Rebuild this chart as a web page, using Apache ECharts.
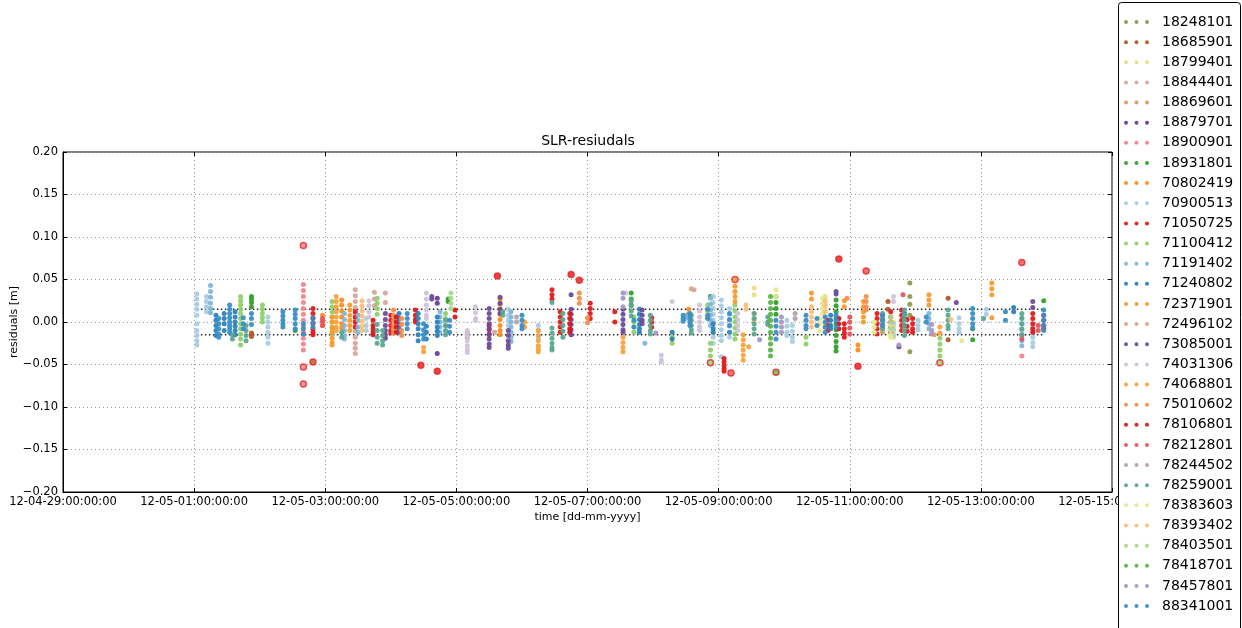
<!DOCTYPE html>
<html>
<head>
<meta charset="utf-8">
<script src="https://cdn.jsdelivr.net/npm/echarts@6/dist/echarts.min.js"></script>
<style>
  html, body { margin: 0; padding: 0; background: #fff; }
  #chart { width: 1242px; height: 628px; }
</style>
</head>
<body>
<div id="chart"></div>
<script>
// time axis is in hours since 2012-05-01 00:00 UTC
const epoch = Date.UTC(2012, 4, 1);
const xTicksHours = [-48, 0, 48, 96, 144, 192, 240, 288, 336];
const yTicks = [-0.20, -0.15, -0.10, -0.05, 0.00, 0.05, 0.10, 0.15, 0.20];
const rmsBand = 0.015;

// passes per station: [hour, [residuals in m]]
const st18248101 = [[262, [0.046, 0.030, 0.021, 0.008, -0.035]]];
const st18685901 = [[21, [-0.013, -0.017]], [254, [0.024, 0.015]], [276, [0.028, -0.021]]];
const st18799401 = [[205, [0.040, 0.032]], [231, [0.030, 0.022, 0.014, 0.006, -0.002, -0.008]],
  [256, [0.000, -0.006, -0.012, -0.018]]];
const st18844401 = [[59, [0.038, 0.031, 0.024, 0.017, 0.010, 0.003, -0.004, -0.011, -0.018, -0.025, -0.031, -0.037]],
  [66, [0.035, 0.027, 0.019]], [70, [0.034, 0.023]], [110, [-0.012]], [183, [0.038]]];
const st18869601 = [[252, [0.008, 0.002, -0.006, -0.012]]];
const st18879701 = [[89, [0.028, 0.022, -0.037]], [258, [-0.029]]];
const st18900901 = [[40, [0.044, 0.037, 0.030, 0.023, 0.016, 0.009, 0.002, -0.005, -0.012, -0.019, -0.026, -0.033]], [303, [-0.040]]];
const st18931801 = [[21, [0.030, 0.027, 0.023, 0.018]], [37, [-0.010]], [93, [0.027, 0.024]], [160, [0.034, 0.027, 0.020]],
  [189, [0.030]], [213, [0.030, 0.023, 0.016, 0.009]],
  [235, [0.026, 0.019, 0.012, 0.005, -0.002, -0.009, -0.016, -0.023, -0.029, -0.034]], [285, [-0.021, -0.008]], [311, [0.025]]];
const st70802419 = [[47, [0.008, 0.002, -0.004]], [54, [0.026, 0.020, 0.013, 0.006, -0.002, -0.007]],
  [112, [0.027, 0.021, 0.015, 0.009, 0.003, -0.004, -0.010, -0.015]], [181, [0.015, 0.009]], [243, [-0.027, -0.033]]];
const st70900513 = [[1, [0.033, 0.027, 0.021, 0.015, 0.008, -0.002, -0.010, -0.016, -0.022, -0.027]],
  [4.5, [0.030, 0.024, 0.018, 0.012]], [27, [0.006, 0.000, -0.006, -0.012, -0.018, -0.025]],
  [63, [0.004, -0.004, -0.010]],
  [115, [0.015, 0.008, 0.002, -0.004]], [126, [-0.004, -0.010, -0.016, -0.019]],
  [190, [0.030, 0.023, 0.016, 0.009, 0.002, -0.005, -0.012, -0.018, -0.025]],
  [193, [0.026, 0.019, 0.012, 0.005, -0.002, -0.009, -0.016, -0.022, -0.041]],
  [196, [0.016, 0.009, 0.002, -0.005, -0.012, -0.018]], [217, [0.002, -0.005, -0.012, -0.016]],
  [219, [-0.004, -0.011, -0.018, -0.023]], [256, [-0.002, -0.009, -0.016]], [265, [0.002, -0.004, -0.009]],
  [280, [0.005, -0.002, -0.008, -0.012]], [290, [0.015, 0.009]], [307, [-0.006, -0.012, -0.018, -0.024, -0.029]]];
const st71050725 = [[43.5, [0.016, 0.010, 0.004, -0.002, -0.008, -0.012, -0.015]], [59, [0.012, 0.006, 0.000, -0.006]],
  [72, [0.008, 0.002, -0.004, -0.010, -0.013]], [81, [0.014, 0.008, 0.003, 0.000]], [108, [-0.004, -0.009, -0.015]],
  [131, [0.038, 0.032, 0.027]], [134, [0.012, 0.006, 0.000, -0.006, -0.012]], [145, [0.022, 0.016, 0.010, 0.004]],
  [154, [0.012, 0.000]], [167.5, [0.005, 0.000, -0.006]], [194, [-0.043, -0.047, -0.051, -0.055, -0.058]],
  [232, [0.002, -0.004, -0.010]], [238, [-0.002, -0.008, -0.013, -0.018]], [250, [0.010, 0.004, -0.002, -0.008, -0.014]],
  [255, [0.012, 0.006, 0.000, -0.006, -0.012]],
  [259, [0.014, 0.008, 0.002, -0.004, -0.010]], [263, [0.004, -0.002, -0.008, -0.012]],
  [307, [0.010, 0.004, -0.002, -0.008, -0.012]], [311, [0.008, 0.002, -0.004, -0.008]]];
const st71100412 = [[17, [0.030, 0.025, 0.020, 0.015, 0.010, 0.004, -0.002, -0.008, -0.014, -0.020, -0.027]],
  [25, [0.020, 0.015, 0.010, 0.005, 0.000]], [50.5, [0.024, 0.018, 0.012, 0.006, 0.000, -0.006, -0.011, -0.015]],
  [67, [0.028, 0.022, 0.016, 0.009]], [92, [0.010, 0.004, -0.004]], [161, [0.006, 0.000, -0.006, -0.012]],
  [175, [-0.018, -0.025]], [188, [0.020, 0.013, 0.006]], [189, [-0.025, -0.033, -0.040]],
  [198, [0.020, 0.013, 0.006, 0.000, -0.007, -0.014, -0.020]], [224, [-0.018, -0.026]], [273, [-0.019, -0.026, -0.033, -0.040]]];
const st71191402 = [[6, [0.043, 0.036, 0.029, 0.022, 0.016, 0.011]], [55, [0.010, 0.003, -0.004, -0.010, -0.016, -0.020]],
  [60, [0.008, 0.002, -0.006, -0.012]], [90, [0.012, 0.006, 0.000, -0.006, -0.012]],
  [116, [0.012, 0.006, 0.000, -0.006, -0.012, -0.018, -0.023]], [165, [-0.025]], [180, [0.008, 0.004]],
  [189, [0.028, 0.021, 0.014, 0.008, 0.002, -0.004]], [269, [0.010, 0.004, -0.002, -0.008]],
  [303, [0.005, -0.002, -0.009, -0.016, -0.022, -0.028]]];
const st71240802 = [[8, [0.008, 0.002, -0.004, -0.010, -0.016]], [11, [0.010, 0.004, -0.002, -0.010]],
  [15, [0.012, 0.006, 0.000, -0.005, -0.010, -0.015]],
  [75, [0.010, 0.004, -0.002, -0.007, -0.012]], [82, [0.010, 0.004, -0.002, -0.008, -0.015, -0.022]],
  [85, [-0.005, -0.012, -0.020]], [89, [0.006, 0.000, -0.006, -0.011, -0.016]],
  [163, [0.015, 0.009, 0.003, -0.003, -0.008, -0.012]], [175, [-0.012, -0.020]], [190, [-0.002, -0.008, -0.012]],
  [233, [0.008, 0.002, -0.004, -0.008]], [260, [0.010, 0.004, -0.004]], [300, [0.017, 0.012]]];
const st72371901 = [[50.5, [0.006, 0.000, -0.007, -0.013, -0.019, -0.024, -0.027]],
  [57, [0.020, 0.014, 0.008, 0.002, -0.004, -0.010]], [198, [0.042, 0.036, 0.030, 0.024]],
  [226, [0.034, 0.027]], [238, [0.025, 0.018]], [245, [0.024, 0.018, 0.012, 0.006, 0.000]],
  [269, [0.032, 0.026, 0.020]], [292, [0.046, 0.039, 0.032, 0.005]]];
const st72496102 = [[100, [-0.012, -0.018]], [182, [0.039]]];
const st73085001 = [[70, [0.010, 0.003, -0.004, -0.010, -0.015, -0.019]], [87, [0.030, 0.027]],
  [108, [0.016, 0.010, 0.004, -0.002, -0.008, -0.014, -0.020, -0.026, -0.030]], [112, [0.029, 0.022, 0.015, 0.010]],
  [115, [-0.010, -0.016, -0.022, -0.027, -0.031]], [138, [0.032, 0.015, 0.009, 0.003, -0.003, -0.009, -0.015]],
  [157, [0.015, 0.009, 0.003, -0.003, -0.009, -0.012]], [164, [0.014, 0.008, 0.002, -0.002]],
  [235, [0.036, 0.033]], [279, [0.023]], [307, [0.024, 0.017]]];
const st74031306 = [[64, [0.025, 0.019, 0.012, 0.006]], [85, [0.034, 0.027, 0.020, 0.014, 0.008, 0.004]],
  [100, [-0.010, -0.016, -0.022, -0.028, -0.033, -0.036]], [103, [0.018, 0.011, 0.004, 0.002]], [158, [0.034]],
  [171, [-0.039, -0.045, -0.047]], [175, [0.024]], [185, [0.020, 0.013, 0.006, 0.000, -0.006, -0.010]],
  [199, [0.010, 0.003, -0.004, -0.010]], [256, [0.030, 0.024]]];
const st74068801 = [[52, [0.030, 0.024, 0.018, 0.012, 0.006, 0.000, -0.006, -0.010]], [84, [-0.030, -0.035]],
  [121, [0.000, -0.006]], [126, [-0.010, -0.016, -0.022, -0.028, -0.032, -0.035]], [157, [-0.018, -0.024, -0.030, -0.035]],
  [201, [-0.015, -0.021, -0.027, -0.033, -0.039, -0.045]], [203, [-0.029]], [205, [0.010, 0.003]],
  [271, [-0.015]], [273, [-0.006, -0.013]]];
const st75010602 = [[73, [0.014, 0.008, 0.002, -0.004, -0.009, -0.013]], [76, [0.004, -0.003, -0.010, -0.016]],
  [141, [0.034, 0.028, 0.022]], [144, [0.005, -0.001]], [239, [0.028]], [246, [0.030, 0.024, 0.018, 0.014]]];
const st78106801 = [[65.5, [0.002, -0.004, -0.008, -0.012, -0.015]], [74, [0.006, 0.000, -0.006, -0.012]],
  [95.5, [0.014, 0.006]],
  [137.5, [0.010, 0.004, -0.002, -0.008, -0.012]], [236, [0.004, -0.002, -0.008]], [261, [0.003, -0.005, -0.011]]];
const st78212801 = [[47, [0.004, 0.000, -0.004]], [240, [0.006, 0.000, -0.007, -0.014]], [259.5, [0.032]],
  [303, [-0.015, -0.020]], [309, [-0.004, -0.010]]];
const st78244502 = [[118, [0.006, 0.000]], [220, [0.010, 0.004]]];
const st78259001 = [[14, [-0.015, -0.020]], [19, [-0.004, -0.010, -0.016, -0.022]], [54, [-0.012, -0.018]],
  [67, [-0.003, -0.010, -0.018, -0.025]],
  [69, [-0.010, -0.016, -0.022, -0.027]], [92, [0.002, -0.004, -0.010, -0.015]], [113, [0.012, 0.008]],
  [131, [0.023, -0.007, -0.013, -0.019, -0.025, -0.030, -0.033]], [135, [0.010, 0.003, -0.004, -0.011, -0.018]],
  [160, [0.025, 0.019, 0.013, 0.007]], [167, [0.008, 0.002, -0.004, -0.010, -0.014]],
  [182, [0.008, 0.002, -0.004, -0.009, -0.013]], [205, [0.010, 0.004, -0.002, -0.008, -0.014]],
  [210, [0.006, 0.000, -0.003]], [252, [0.010, 0.004, -0.002, -0.008]],
  [260, [0.014, 0.008, 0.002, -0.004, -0.010, -0.016]],
  [276, [0.014, 0.008, 0.002, -0.004, -0.008]], [289, [0.004]], [303, [0.010, 0.004, -0.002, -0.008, -0.015]]];
const st78383603 = [[213, [0.038, 0.030]], [229, [0.004, -0.002, -0.010]], [230, [0.028, 0.022, 0.016, 0.010]],
  [249, [0.000, -0.006, -0.012]], [255, [-0.004, -0.010, -0.015, -0.018]], [281, [-0.022]]];
const st78393402 = [[61.5, [0.025, 0.019, 0.013, 0.007, 0.001, -0.005, -0.010]], [202, [0.020, 0.015]],
  [226, [0.018, 0.012, 0.006, 0.000, -0.006]], [231, [0.025, 0.019, 0.012]], [277, [0.003]]];
const st78403501 = [[94, [0.034, 0.028, 0.022, 0.016]], [255, [0.006, 0.000, -0.008]]];
const st78418701 = [[211, [0.030, 0.023, 0.016, 0.009, 0.002, -0.005, -0.012, -0.019, -0.026, -0.033, -0.040]]];
const st78457801 = [[157, [0.034, 0.028, 0.018]], [169, [-0.013]], [207, [-0.021]], [215, [0.006, 0.000, -0.006, -0.012]],
  [258, [-0.027]], [270, [-0.003, -0.010, -0.014]]];
const st88341001 = [[9, [0.004, -0.002, -0.008, -0.014, -0.018]], [13, [0.020, 0.015, 0.010, 0.005, 0.000, -0.004, -0.008, -0.012]],
  [18, [0.005, -0.002, -0.008]],
  [21, [0.010, 0.004, -0.003]], [32.5, [0.012, 0.007, 0.002, -0.002, -0.006]], [37, [0.014, 0.009, 0.004, -0.002, -0.008]],
  [40, [-0.002, -0.008, -0.014]], [43.5, [0.005, -0.001, -0.006]], [78, [0.010, 0.004, -0.002, -0.008]],
  [84, [-0.002, -0.009, -0.015, -0.020]],
  [93.5, [0.002, -0.005, -0.012]], [120, [0.008, 0.002, -0.004, -0.008]], [161, [0.002, -0.006]],
  [179, [0.008, 0.004, 0.001]], [181.5, [0.010, 0.005, 0.000, -0.004]], [188, [0.015, 0.008, 0.004]],
  [196, [0.010, 0.003, -0.004, -0.012]], [213, [0.002, -0.005, -0.012, -0.020]], [224, [0.008, 0.002, -0.004, -0.008]],
  [228, [0.004, -0.004]], [231, [0.006, 0.000, -0.006, -0.012]], [235, [0.008, 0.002, -0.006]],
  [252, [0.008, 0.002, -0.004]], [268, [0.006, 0.000]],
  [285, [0.016, 0.010, 0.004, -0.002, -0.007]], [297, [0.012, 0.002]], [311, [0.014, 0.008, 0.002, -0.004, -0.010]]];

// flagged outliers: [station, hour, residual]
const outlierPts = [
  ['18900901', 40, 0.090], ['18900901', 40, -0.053], ['18900901', 40, -0.073], ['18685901', 43.5, -0.047],
  ['71050725', 83, -0.051], ['78106801', 89, -0.058], ['78106801', 111, 0.054], ['78106801', 138, 0.056],
  ['71050725', 141, 0.049], ['71100412', 189, -0.048], ['72371901', 198, 0.050], ['78212801', 196.5, -0.060],
  ['78418701', 213, -0.059], ['71050725', 236, 0.074], ['71050725', 243, -0.052], ['78212801', 246, 0.060],
  ['71100412', 273, -0.048], ['78212801', 303, 0.070]
];

const stationNames = ['18248101', '18685901', '18799401', '18844401', '18869601', '18879701', '18900901', '18931801',
  '70802419', '70900513', '71050725', '71100412', '71191402', '71240802', '72371901', '72496102', '73085001',
  '74031306', '74068801', '75010602', '78106801', '78212801', '78244502', '78259001', '78383603', '78393402',
  '78403501', '78418701', '78457801', '88341001'];
const stationPasses = [st18248101, st18685901, st18799401, st18844401, st18869601, st18879701, st18900901, st18931801,
  st70802419, st70900513, st71050725, st71100412, st71191402, st71240802, st72371901, st72496102, st73085001,
  st74031306, st74068801, st75010602, st78106801, st78212801, st78244502, st78259001, st78383603, st78393402,
  st78403501, st78418701, st78457801, st88341001];

const stationColors = ['#8c9b50', '#b15928', '#eedc82', '#d9a59a', '#c8a064', '#6a3d9a', '#f4858a', '#33a02c',
  '#ff8c1a', '#a6cee3', '#e31a1c', '#8fd16a', '#7eb6d9', '#2b83ba', '#f89a30', '#dba48c', '#6b4c9a',
  '#cfc3dd', '#f9a23c', '#f58d4d', '#d7191c', '#e9535d', '#b4a3ad', '#5ba88f', '#e6e88f', '#f8c07d',
  '#a9d98e', '#5cb54a', '#a897c9', '#3b8ec5'];

function pad(n) {
    return n < 10 ? '0' + n : '' + n;
}

function fmtHour(h) {
    const d = new Date(epoch + h * 3600000);
    return String(d.getUTCFullYear()).slice(2) + '-' + pad(d.getUTCMonth() + 1) + '-' + pad(d.getUTCDate()) +
        ':' + pad(d.getUTCHours()) + ':00:00';
}

function passPoints(passes) {
    const pts = [];
    passes.forEach(function(p) {
        p[1].forEach(function(v) { pts.push([p[0], v]); });
    });
    return pts;
}

// observation span for the rms band lines
let tFirst = Infinity, tLast = -Infinity;
stationPasses.forEach(function(passes) {
    passes.forEach(function(p) {
        tFirst = Math.min(tFirst, p[0]);
        tLast = Math.max(tLast, p[0]);
    });
});

const font = 'DejaVu Sans';
const series = stationNames.map(function(name, i) {
    return {
        name: name,
        type: 'scatter',
        symbolSize: 5,
        data: passPoints(stationPasses[i]),
        itemStyle: { color: stationColors[i], opacity: 0.95 },
        z: 3
    };
});

series.push({
    name: 'outliers',
    type: 'scatter',
    symbolSize: 6,
    z: 4,
    data: outlierPts.map(function(o) {
        return {
            value: [o[1], o[2]],
            itemStyle: { color: stationColors[stationNames.indexOf(o[0])], borderColor: '#ee2222', borderWidth: 1.5 }
        };
    })
});

function hLine(y, color, type, width) {
    return {
        type: 'line',
        silent: true,
        symbol: 'none',
        z: 2,
        data: [[tFirst, y], [tLast, y]],
        lineStyle: { color: color, type: type, width: width }
    };
}
series.push(hLine(0, '#dddddd', [4, 3], 1));
series.push(hLine(rmsBand, '#222222', [1.5, 2.5], 1.5));
series.push(hLine(-rmsBand, '#222222', [1.5, 2.5], 1.5));

const threeDots = 'path://M0,2a2,2 0 1,0 4,0a2,2 0 1,0 -4,0M10.5,2a2,2 0 1,0 4,0a2,2 0 1,0 -4,0M21,2a2,2 0 1,0 4,0a2,2 0 1,0 -4,0';

const chart = echarts.init(document.getElementById('chart'));
chart.setOption({
    animation: false,
    backgroundColor: '#fff',
    textStyle: { fontFamily: font },
    title: {
        text: 'SLR-resiudals',
        left: 588,
        top: 134,
        padding: 0,
        textAlign: 'center',
        textStyle: { fontFamily: font, fontSize: 14, fontWeight: 'normal', color: '#000' }
    },
    grid: {
        left: 63, right: 130, top: 152, bottom: 136,
        containLabel: false, outerBoundsMode: 'none',
        show: true, borderColor: '#000', borderWidth: 1, backgroundColor: 'transparent'
    },
    xAxis: [{
        type: 'value',
        min: xTicksHours[0],
        max: xTicksHours[xTicksHours.length - 1],
        interval: 48,
        name: 'time [dd-mm-yyyy]',
        nameLocation: 'middle',
        nameGap: 20,
        nameMoveOverlap: false,
        nameTextStyle: { fontFamily: font, fontSize: 11, color: '#000' },
        axisLine: { show: true, onZero: false, lineStyle: { color: '#000' } },
        axisTick: { inside: true, length: 4, lineStyle: { color: '#000' } },
        axisLabel: {
            formatter: fmtHour, fontFamily: font, fontSize: 11.5, color: '#000', margin: 4,
            showMinLabel: true, showMaxLabel: true, hideOverlap: false
        },
        splitLine: { show: true, lineStyle: { color: '#999', type: [1, 3] } }
    }, {
        type: 'value', position: 'top',
        min: xTicksHours[0], max: xTicksHours[xTicksHours.length - 1], interval: 48,
        axisLine: { show: false, onZero: false },
        axisTick: { inside: true, length: 4, lineStyle: { color: '#000' } },
        axisLabel: { show: false }, splitLine: { show: false }
    }],
    yAxis: [{
        type: 'value',
        min: yTicks[0],
        max: yTicks[yTicks.length - 1],
        interval: 0.05,
        name: 'residuals [m]',
        nameLocation: 'middle',
        nameRotate: 90,
        nameGap: 43,
        nameMoveOverlap: false,
        nameTextStyle: { fontFamily: font, fontSize: 11, color: '#000' },
        axisLine: { show: true, onZero: false, lineStyle: { color: '#000' } },
        axisTick: { inside: true, length: 4, lineStyle: { color: '#000' } },
        axisLabel: {
            formatter: function(v) { return v.toFixed(2).replace('-', '\u2212'); },
            fontFamily: font, fontSize: 11.5, color: '#000', margin: 5,
            showMinLabel: true, showMaxLabel: true
        },
        splitLine: { show: true, lineStyle: { color: '#999', type: [1, 3] } }
    }, {
        type: 'value', position: 'right',
        min: yTicks[0], max: yTicks[yTicks.length - 1], interval: 0.05,
        axisLine: { show: false, onZero: false },
        axisTick: { inside: true, length: 4, lineStyle: { color: '#000' } },
        axisLabel: { show: false }, splitLine: { show: false }
    }],
    legend: {
        data: stationNames.map(function(n) { return { name: n, icon: threeDots }; }),
        orient: 'vertical',
        left: 1124,
        top: 15,
        padding: 0,
        itemWidth: 25,
        itemHeight: 14,
        itemGap: 6.14,
        z: 110,
        selectedMode: false,
        textStyle: { fontFamily: font, fontSize: 14, color: '#000', padding: [0, 0, 0, 8] }
    },
    graphic: [{
        type: 'rect',
        left: 1118,
        top: 2,
        z: 100,
        shape: { width: 122, height: 660, r: 3 },
        style: { fill: '#fff', stroke: '#000', lineWidth: 1 }
    }],
    series: series
});
</script>
</body>
</html>
